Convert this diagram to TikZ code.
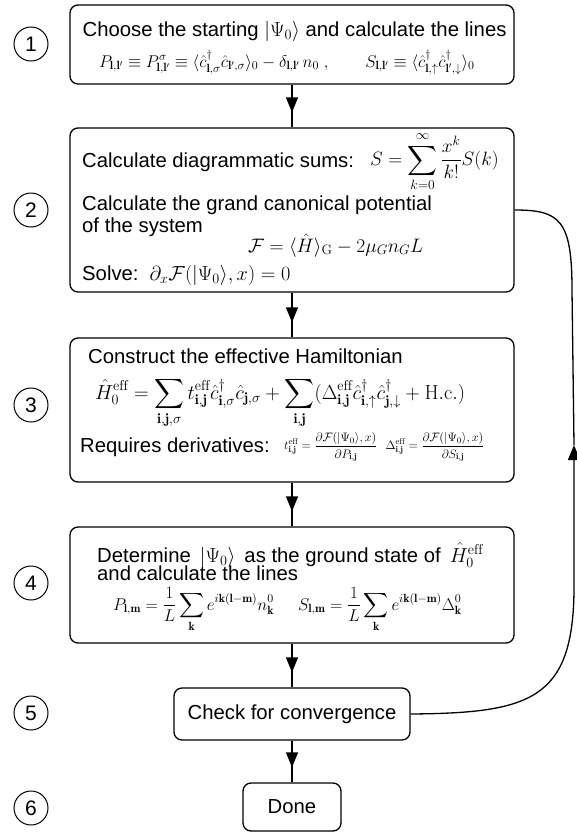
\RequirePackage{fix-cm}
\documentclass[tikz,border=0pt]{standalone}
\usepackage{amsmath}
\usepackage{fontspec}
\newfontfamily\arialf{Liberation Sans}
\usetikzlibrary{arrows.meta,calc}
\newcommand{\Bl}{\mathbf{l}}
\newcommand{\Bi}{\mathbf{i}}
\newcommand{\Bj}{\mathbf{j}}
\newcommand{\Bk}{\mathbf{k}}
\newcommand{\Bm}{\mathbf{m}}
\newcommand{\effx}{\mathrm{eff}}
\begin{document}
\begin{tikzpicture}[x=1pt,y=-1pt,
  box/.style={draw, line width=1.3pt, rounded corners=8pt, inner sep=0pt},
  num/.style={draw, circle, line width=1pt, minimum size=34pt, inner sep=0pt, font=\arialf\fontsize{21}{21}\selectfont},
  txt/.style={anchor=base west, inner sep=0pt, font=\arialf\fontsize{20.3}{22}\selectfont},
  mth/.style={anchor=west, inner sep=0pt},
  link/.style={line width=1.3pt},
  tip/.style={line width=1.3pt, -{Triangle[length=15pt,width=12pt]}}
]
\useasboundingbox (0,0) rectangle (576,833);

% boxes
\node[box, minimum width=444pt, minimum height=79pt] (b1) at (292,44.5) {};
\node[box, minimum width=444pt, minimum height=164pt] (b2) at (292,210) {};
\node[box, minimum width=444pt, minimum height=144pt] (b3) at (292,410) {};
\node[box, minimum width=444pt, minimum height=116pt] (b4) at (292,585) {};
\node[box, minimum width=236pt, minimum height=52pt, font=\arialf\fontsize{20.3}{22}\selectfont] (check) at (292,714) {Check for convergence};
\node[box, minimum width=98pt, minimum height=48pt, font=\arialf\fontsize{20.3}{22}\selectfont] (done) at (292,807) {Done};

% step numbers
\node[num] (n1) at (31,44) {1};
\node[num] (n2) at (31,210) {2};
\node[num] (n3) at (31,405) {3};
\node[num] (n4) at (31,583) {4};
\node[num] (n5) at (31,713) {5};
\node[num] (n6) at (31,808) {6};

% box 1
\node[txt] (t1) at (82.5,36) {Choose the starting $|\Psi_0\rangle$ and calculate the lines};
\node[anchor=base west, inner sep=0pt, font=\fontsize{17}{19}\selectfont] (f1) at (99,67)
  {$P_{\Bl,\Bl'} \equiv P^{\sigma}_{\Bl,\Bl'} \equiv \langle \hat{c}^\dagger_{\Bl,\sigma}\hat{c}_{\Bl',\sigma}\rangle_0 - \delta_{\Bl,\Bl'}\, n_0\;, \qquad S_{\Bl,\Bl'} \equiv \langle \hat{c}^\dagger_{\Bl,\uparrow}\hat{c}^\dagger_{\Bl',\downarrow}\rangle_0$};

% box 2
\node[txt] (t2a) at (82,167) {Calculate diagrammatic sums:};
\node[mth, font=\fontsize{19.3}{22}\selectfont] (f2a) at (370,162) {$\displaystyle S=\sum_{k=0}^{\infty}\frac{x^k}{k!}S(k)$};
\node[txt] (t2b) at (82,210) {Calculate the grand canonical potential};
\node[txt] (t2c) at (82,232) {of the system};
\node[anchor=base west, inner sep=0pt, font=\fontsize{19.5}{22}\selectfont] (f2b) at (248,252) {$\mathcal{F}=\langle\hat{H}\rangle_{\mathrm{G}}-2\mu_G n_G L$};
\node[txt] (t2d) at (82,280) {Solve: \,$\partial_x\mathcal{F}(|\Psi_0\rangle,x)=0$};

% box 3
\node[txt] (t3a) at (88,363) {Construct the effective Hamiltonian};
\node[anchor=base west, inner sep=0pt, font=\fontsize{20.3}{22}\selectfont] (f3a) at (95,399)
  {$\displaystyle \hat{H}_0^{\effx}=\sum_{\Bi,\Bj,\sigma}t^{\effx}_{\Bi,\Bj}\hat{c}^\dagger_{\Bi,\sigma}\hat{c}_{\Bj,\sigma}+\sum_{\Bi,\Bj}(\Delta^{\effx}_{\Bi,\Bj}\hat{c}^\dagger_{\Bi,\uparrow}\hat{c}^\dagger_{\Bj,\downarrow}+\mathrm{H.c.})$};
\node[txt] (t3b) at (80,452) {Requires derivatives:};
\node[mth, font=\fontsize{12.2}{14}\selectfont] (f3b) at (284,447)
  {$\displaystyle t^{\effx}_{\Bi,\Bj}=\frac{\partial\mathcal{F}(|\Psi_0\rangle,x)}{\partial P_{\Bi,\Bj}}\ \ \Delta^{\effx}_{\Bi,\Bj}=\frac{\partial\mathcal{F}(|\Psi_0\rangle,x)}{\partial S_{\Bi,\Bj}}$};

% box 4
\node[txt] (t4a) at (97,562) {Determine \,$|\Psi_0\rangle$\, as the ground state of \,$\hat{H}_0^{\effx}$};
\node[txt] (t4b) at (97,580) {and calculate the lines};
\node[mth, font=\fontsize{17}{19}\selectfont] (f4a) at (113,610)
  {$\displaystyle P_{\Bl,\Bm}=\frac{1}{L}\sum_{\Bk}e^{i\Bk(\Bl-\Bm)}n^0_{\Bk}$};
\node[mth, font=\fontsize{17}{19}\selectfont] (f4b) at (298,610)
  {$\displaystyle S_{\Bl,\Bm}=\frac{1}{L}\sum_{\Bk}e^{i\Bk(\Bl-\Bm)}\Delta^0_{\Bk}$};

% vertical connectors with arrow heads placed before the target
\foreach \a/\b in {b1/b2,b2/b3,b3/b4,b4/check,check/done}{
  \draw[link] (\a.south) -- (\b.north);
  \draw[tip] (\a.south) -- ($(\b.north)+(0,-15)$);
}

% feedback loop
\coordinate (up) at (574,445);
\draw[tip] (check.east) .. controls (530,713) and (573,700) .. (574,590) -- (up);
\draw[link] (up) -- (572,290) .. controls (572,220) and (560,210) .. (b2.east);
\end{tikzpicture}
\end{document}
